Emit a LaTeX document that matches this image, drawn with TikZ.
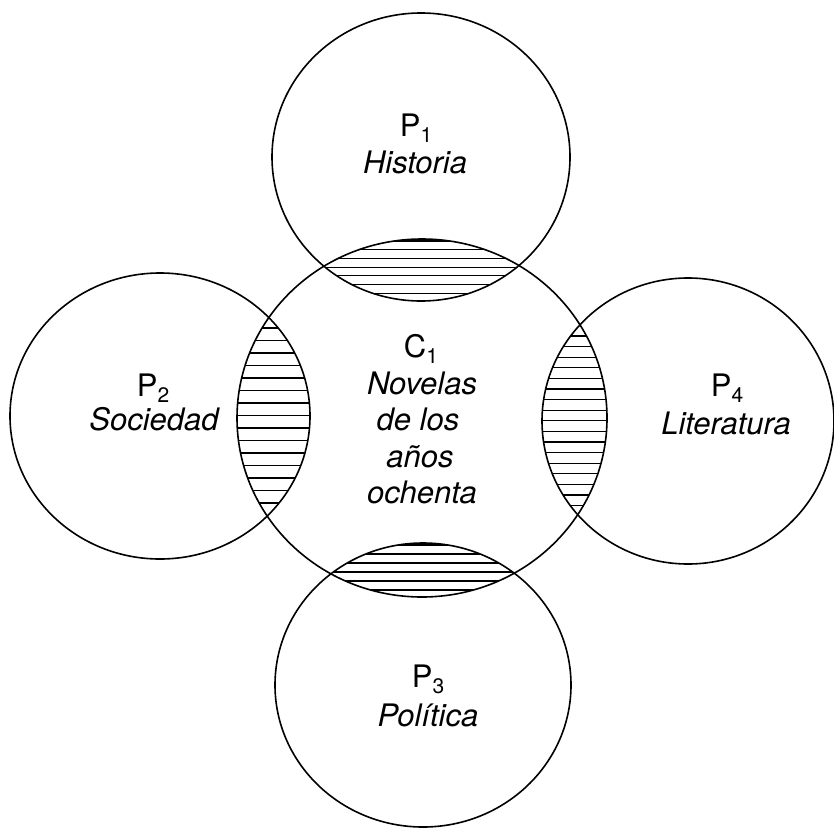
\documentclass[tikz,border=0pt]{standalone}
\usepackage{fontspec}
\setmainfont{TeX Gyre Heros}
\newcommand\mysub[1]{\raisebox{-0.2em}{\fontsize{21}{21}\selectfont #1}}
\tikzset{
  ring/.style={draw=black, line width=1.6pt},
  hatch/.style={draw=black, line width=1.2pt},
  lbl/.style={inner sep=0pt, anchor=base, font=\fontsize{31}{36}\selectfont},
  ilbl/.style={lbl, font=\fontsize{31}{36}\selectfont\itshape}
}
\begin{document}
\begin{tikzpicture}[x=1pt,y=-1pt]
\useasboundingbox (0,0) rectangle (834,830);
% centres
\coordinate (c)  at (422,418);
\coordinate (p1) at (421,157);
\coordinate (p2) at (160,416);
\coordinate (p3) at (423,685);
\coordinate (p4) at (688,421);
% hatching: top lens
\begin{scope}
  \clip (c) ellipse [x radius=185pt, y radius=179pt];
  \clip (p1) ellipse [x radius=149pt, y radius=144pt];
  \foreach \yy in {241,249.7,...,300} \draw[hatch] (250,\yy) -- (600,\yy);
\end{scope}
% bottom lens
\begin{scope}
  \clip (c) ellipse [x radius=185pt, y radius=179pt];
  \clip (p3) ellipse [x radius=148pt, y radius=142pt];
  \foreach \yy in {545,554,...,597} \draw[hatch] (250,\yy) -- (600,\yy);
\end{scope}
% left lens
\begin{scope}
  \clip (c) ellipse [x radius=185pt, y radius=179pt];
  \clip (p2) ellipse [x radius=150pt, y radius=143pt];
  \foreach \yy in {328,340.5,...,512} \draw[hatch] (200,\yy) -- (330,\yy);
\end{scope}
% right lens
\begin{scope}
  \clip (c) ellipse [x radius=185pt, y radius=179pt];
  \clip (p4) ellipse [x radius=146pt, y radius=143pt];
  \foreach \yy in {336,346.6,...,512} \draw[hatch] (520,\yy) -- (630,\yy);
\end{scope}
% circles
\draw[ring] (c)  ellipse [x radius=185pt, y radius=179pt];
\draw[ring] (p1) ellipse [x radius=149pt, y radius=144pt];
\draw[ring] (p2) ellipse [x radius=150pt, y radius=143pt];
\draw[ring] (p3) ellipse [x radius=148pt, y radius=142pt];
\draw[ring] (p4) ellipse [x radius=146pt, y radius=143pt];
% labels
\node[lbl]  (t1a) at (416,136) {P\mysub{1}};
\node[ilbl] (t1b) at (415,173) {Historia};
\node[lbl]  (t2a) at (153,396) {P\mysub{2}};
\node[ilbl] (t2b) at (154,430) {Sociedad};
\node[lbl]  (t3a) at (428,687) {P\mysub{3}};
\node[ilbl] (t3b) at (428,726) {Política};
\node[lbl]  (t4a) at (727,396) {P\mysub{4}};
\node[ilbl] (t4b) at (726,434) {Literatura};
\node[lbl]  (tca) at (421,357) {C\mysub{1}};
\node[ilbl] (tcb) at (422,394) {Novelas};
\node[ilbl] (tcc) at (418,430) {de los};
\node[ilbl] (tcd) at (420,467) {años};
\node[ilbl] (tce) at (422,503) {ochenta};
\end{tikzpicture}
\end{document}
